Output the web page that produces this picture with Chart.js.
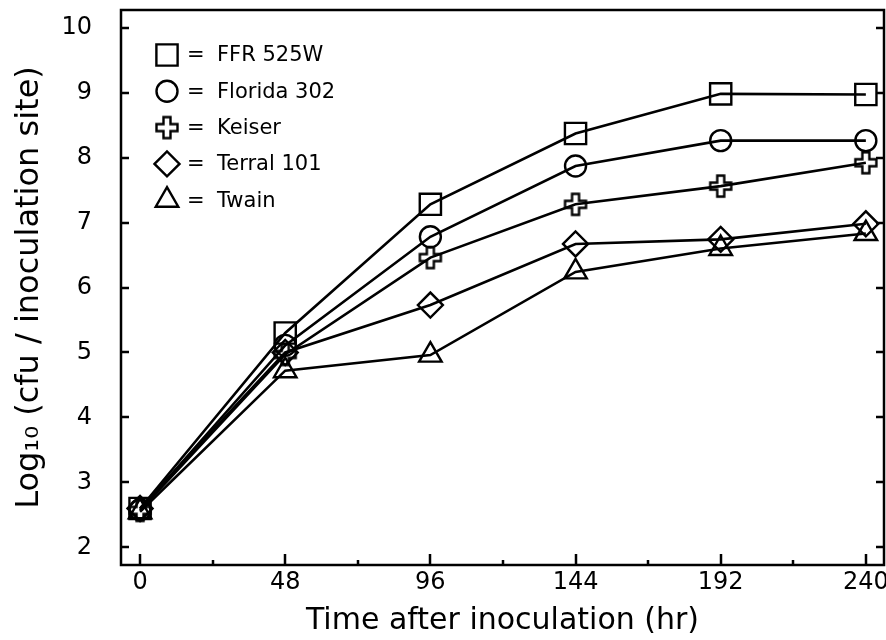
<!DOCTYPE html>
<html>
<head>
<meta charset="utf-8">
<script src="https://cdn.jsdelivr.net/npm/chart.js@4/dist/chart.umd.min.js"></script>
<style>
  html, body { margin: 0; padding: 0; background: #fff; }
</style>
</head>
<body>
<canvas id="chart" width="886" height="640"></canvas>
<script>
// values
const hours = [0, 48, 96, 144, 192, 240]
const ffr525w = [2.60, 5.30, 7.28, 8.37, 8.98, 8.97]
const florida302 = [2.58, 5.11, 6.78, 7.87, 8.26, 8.26]
const keiser = [2.57, 4.97, 6.46, 7.28, 7.56, 7.92]
const terral101 = [2.60, 5.00, 5.73, 6.67, 6.74, 6.98]
const twain = [2.55, 4.72, 4.96, 6.24, 6.60, 6.83]
const cultivars = ['FFR 525W', 'Florida 302', 'Keiser', 'Terral 101', 'Twain']
const xTickValues = [0, 48, 96, 144, 192, 240]
const xMinorValues = [24, 72, 120, 168, 216]
const yTickValues = [2, 3, 4, 5, 6, 7, 8, 9, 10]

const FONT = "'DejaVu Sans', sans-serif"

// outlined plus, Chart.js only has a line cross
function plusMarker() {
  const c = document.createElement('canvas')
  c.width = 26
  c.height = 26
  const g = c.getContext('2d')
  const m = 13, a = 3.5, e = 10.5
  g.beginPath()
  g.moveTo(m - a, m - e)
  g.lineTo(m + a, m - e)
  g.lineTo(m + a, m - a)
  g.lineTo(m + e, m - a)
  g.lineTo(m + e, m + a)
  g.lineTo(m + a, m + a)
  g.lineTo(m + a, m + e)
  g.lineTo(m - a, m + e)
  g.lineTo(m - a, m + a)
  g.lineTo(m - e, m + a)
  g.lineTo(m - e, m - a)
  g.lineTo(m - a, m - a)
  g.closePath()
  g.lineWidth = 2.4
  g.strokeStyle = '#000'
  g.stroke()
  return c
}

const series = [ffr525w, florida302, keiser, terral101, twain]
const styles = [
  { pointStyle: 'rect', radius: 15 },
  { pointStyle: 'circle', radius: 10.5 },
  { pointStyle: plusMarker(), radius: 11 },
  { pointStyle: 'rectRot', radius: 12.5 },
  { pointStyle: 'triangle', radius: 13 }
]

const datasets = series.map((vals, i) => ({
  label: cultivars[i],
  data: hours.map((h, j) => ({ x: h, y: vals[j] })),
  borderColor: '#000',
  borderWidth: 2.6,
  backgroundColor: 'rgba(0,0,0,0)',
  pointStyle: styles[i].pointStyle,
  pointRadius: styles[i].radius,
  pointHoverRadius: styles[i].radius,
  pointBorderColor: '#000',
  pointBorderWidth: 2.4,
  pointBackgroundColor: 'rgba(0,0,0,0)',
  tension: 0,
  clip: false
}))

// box round the plot with inward ticks
const framePlugin = {
  id: 'frame',
  afterDraw(chart) {
    const { ctx, chartArea: a, scales: { x, y } } = chart
    ctx.save()
    ctx.strokeStyle = '#000'
    ctx.lineWidth = 2.5
    ctx.strokeRect(a.left, a.top, a.right - a.left, a.bottom - a.top)
    ctx.beginPath()
    yTickValues.forEach(v => {
      const py = Math.round(y.getPixelForValue(v))
      ctx.moveTo(a.left, py); ctx.lineTo(a.left + 8, py)
      ctx.moveTo(a.right, py); ctx.lineTo(a.right - 8, py)
    })
    xTickValues.forEach(v => {
      const px = Math.round(x.getPixelForValue(v))
      ctx.moveTo(px, a.bottom); ctx.lineTo(px, a.bottom - 11)
    })
    xMinorValues.forEach(v => {
      const px = Math.round(x.getPixelForValue(v))
      ctx.moveTo(px, a.bottom); ctx.lineTo(px, a.bottom - 5)
    })
    ctx.stroke()
    ctx.restore()
  }
}

// legend inside the plot: symbol = name
const keyPlugin = {
  id: 'key',
  afterDraw(chart) {
    const { ctx, chartArea: a } = chart
    ctx.save()
    ctx.strokeStyle = '#000'
    ctx.lineWidth = 2.4
    chart.data.datasets.forEach((ds, i) => {
      const cx = a.left + 46
      const cy = a.top + 45 + i * 36.3
      ctx.fillStyle = 'rgba(0,0,0,0)'
      Chart.helpers.drawPoint(ctx, {
        pointStyle: ds.pointStyle,
        radius: ds.pointRadius,
        borderWidth: 2,
        rotation: 0
      }, cx, cy)
      ctx.fillStyle = '#000'
      ctx.font = '21px ' + FONT
      ctx.textBaseline = 'middle'
      ctx.textAlign = 'left'
      ctx.fillText('=', cx + 20, cy + 1)
      ctx.fillText(ds.label, cx + 50, cy + 1)
    })
    ctx.restore()
  }
}

// keep the plot box where the figure has it
function noPadding(scale) {
  scale.paddingTop = 0
  scale.paddingBottom = 0
  scale.paddingLeft = 0
  scale.paddingRight = 0
}

new Chart(document.getElementById('chart'), {
  type: 'line',
  data: { datasets },
  options: {
    responsive: false,
    animation: false,
    events: [],
    layout: {
      autoPadding: false,
      padding: { top: 10, right: 2, left: 0, bottom: 0 }
    },
    plugins: {
      legend: { display: false },
      tooltip: { enabled: false }
    },
    scales: {
      x: {
        type: 'linear',
        min: -6.3,
        max: 246,
        afterBuildTicks: scale => { scale.ticks = xTickValues.map(v => ({ value: v })) },
        afterFit: scale => { scale.height = 75; noPadding(scale) },
        grid: { display: false, drawTicks: false },
        border: { display: false },
        ticks: {
          color: '#000',
          padding: 3,
          maxRotation: 0,
          font: { family: FONT, size: 24 }
        },
        title: {
          display: true,
          text: 'Time after inoculation (hr)',
          color: '#000',
          padding: { top: 0, bottom: 1 },
          font: { family: FONT, size: 30 }
        }
      },
      y: {
        type: 'linear',
        min: 1.73,
        max: 10.27,
        afterBuildTicks: scale => { scale.ticks = yTickValues.map(v => ({ value: v })) },
        afterFit: scale => { scale.width = 121; noPadding(scale) },
        grid: { display: false, drawTicks: false },
        border: { display: false },
        ticks: {
          color: '#000',
          padding: 29,
          font: { family: FONT, size: 24 }
        },
        title: {
          display: true,
          text: 'Log\u2081\u2080 (cfu / inoculation site)',
          color: '#000',
          padding: { top: 10, bottom: 0 },
          font: { family: FONT, size: 32 }
        }
      }
    }
  },
  plugins: [framePlugin, keyPlugin]
})
</script>
</body>
</html>
